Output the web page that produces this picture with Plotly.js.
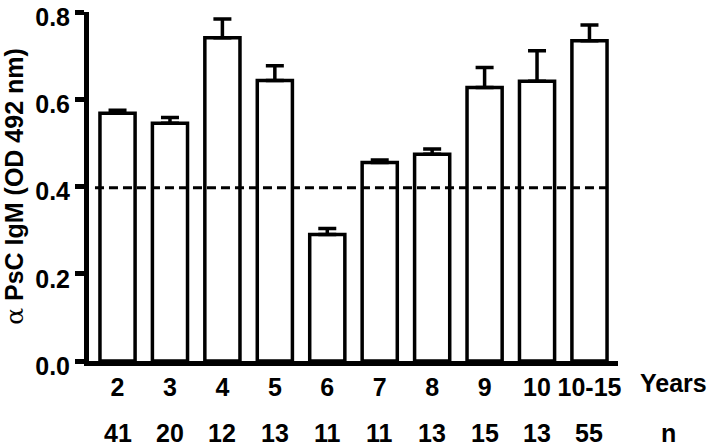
<!DOCTYPE html>
<html>
<head>
<meta charset="utf-8">
<script src="https://cdn.plot.ly/plotly-3.0.1.min.js"></script>
<style>
  body { margin: 0; background: white; }
  #bar-plot { width: 720px; height: 447px; }
</style>
</head>
<body>
<div id="bar-plot"></div>
<script>
//create variables to be used later
var years = ["2", "3", "4", "5", "6", "7", "8", "9", "10", "10-15"];
var counts = ["41", "20", "12", "13", "11", "11", "13", "15", "13", "55"];
var igm = [0.568, 0.545, 0.741, 0.643, 0.290, 0.455, 0.474, 0.627, 0.641, 0.734];
var sem = [0.007, 0.013, 0.043, 0.034, 0.014, 0.006, 0.012, 0.046, 0.070, 0.036];
var cutoff = 0.397;

var noLower = igm.map(item => 0);
var fontFam = "Liberation Sans, Arial, sans-serif";
var boldFont = { family: fontFam, size: 25, color: "black", weight: "bold" };

// white bars with black outline, only upper error bars
var trace1 = {
    x: years,
    y: igm,
    type: "bar",
    width: 0.67,
    marker: { color: "white", line: { color: "black", width: 3.5 } },
    error_y: {
        type: "data",
        symmetric: false,
        array: sem,
        arrayminus: noLower,
        color: "black",
        thickness: 3.5,
        width: 9
    },
    hoverinfo: "none"
};

var data = [trace1];

// n row under the year labels (x is the category index)
var annotations = counts.map((c, i) => ({
    x: i, y: -0.206, xref: "x", yref: "paper",
    text: c, showarrow: false,
    font: boldFont,
    xanchor: "center", yanchor: "middle"
}));
// row names, paper x from pixel positions
annotations.push({
    x: (638 - 89) / 529, y: -0.063, xref: "paper", yref: "paper",
    text: "Years", showarrow: false,
    font: boldFont,
    xanchor: "left", yanchor: "middle"
});
annotations.push({
    x: (668 - 89) / 529, y: -0.206, xref: "paper", yref: "paper",
    text: "n", showarrow: false,
    font: boldFont,
    xanchor: "center", yanchor: "middle"
});

//Define our plot layout
var layout = {
    width: 720,
    height: 447,
    margin: { l: 89, r: 102, t: 12, b: 86 },
    paper_bgcolor: "white",
    plot_bgcolor: "white",
    showlegend: false,
    font: { family: fontFam, size: 25, color: "black" },
    xaxis: {
        type: "category",
        range: [-0.544, 9.544],
        showline: true,
        linecolor: "black",
        linewidth: 5,
        ticks: "",
        showgrid: false,
        zeroline: false,
        tickfont: boldFont
    },
    yaxis: {
        range: [0, 0.8],
        tickvals: [0, 0.2, 0.4, 0.6, 0.8],
        ticktext: ["0.0", "0.2", "0.4", "0.6", "0.8"],
        ticklabeloverflow: "allow",
        ticklabelshift: 5,
        showline: true,
        linecolor: "black",
        linewidth: 5,
        ticks: "outside",
        ticklen: 9,
        tickwidth: 5,
        tickcolor: "black",
        showgrid: false,
        zeroline: false,
        tickfont: boldFont,
        title: {
            text: "<span style='font-weight:normal;font-family:DejaVu Serif'>α</span> PsC IgM (OD 492 nm)",
            font: boldFont,
            standoff: 8
        }
    },
    shapes: [{
        type: "line",
        xref: "x", yref: "y",
        x0: -0.43, x1: 9.35,
        y0: cutoff, y1: cutoff,
        line: { color: "black", width: 3, dash: "9px,5px" }
    }],
    annotations: annotations
};
var config = { staticPlot: true };

Plotly.newPlot("bar-plot", data, layout, config);
</script>
</body>
</html>
